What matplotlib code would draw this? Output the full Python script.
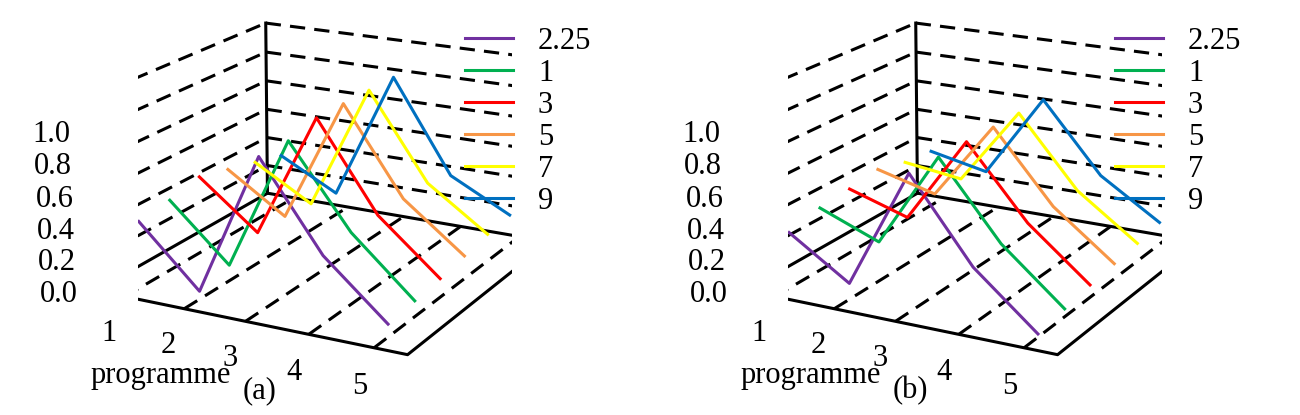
import numpy as np
import matplotlib.pyplot as plt

plt.rcParams['font.family'] = ['Liberation Serif', 'DejaVu Serif']

programme = [1, 2, 3, 4, 5]
labels = ['2.25', '1', '3', '5', '7', '9']
colors = ['#7030a0', '#00b050', '#ff0000', '#f79646', '#ffff00', '#0070c0']

# panel (a)
vals_a = [
    [0.42, 0.05, 0.95, 0.42, 0.08],
    [0.45, 0.10, 0.95, 0.45, 0.10],
    [0.50, 0.20, 1.00, 0.45, 0.12],
    [0.45, 0.20, 1.00, 0.45, 0.15],
    [0.40, 0.18, 1.00, 0.45, 0.18],
    [0.35, 0.15, 1.00, 0.40, 0.20],
]
# panel (b)
vals_b = [
    [0.35, 0.10, 0.85, 0.35, 0.02],
    [0.40, 0.25, 0.85, 0.38, 0.05],
    [0.42, 0.30, 0.85, 0.40, 0.08],
    [0.45, 0.35, 0.85, 0.40, 0.10],
    [0.40, 0.35, 0.85, 0.40, 0.12],
    [0.38, 0.30, 0.85, 0.40, 0.15],
]

fig = plt.figure(figsize=(13, 4.15), dpi=100)


def panel(rect, vals, tag):
    ax = fig.add_axes(rect, projection='3d')
    ax.set_axis_off()
    ax.view_init(elev=18, azim=-62)
    ax.set_box_aspect((1.3, 1.3, 0.75), zoom=1.35)
    n = len(vals)
    x0, x1 = 0.5, 5.5
    y0, y1 = -0.5, n - 0.5
    zt = 1.2
    kw = dict(color='black', lw=2.2)
    dk = dict(color='black', lw=2.2, ls=(0, (5, 3)))
    ax.plot([x0, x1, x1, x0, x0], [y0, y0, y1, y1, y0], [0] * 5, **kw)
    ax.plot([x0, x0], [y0, y0], [0, zt], **kw)
    ax.plot([x0, x0], [y1, y1], [0, zt], **kw)
    for z in np.arange(0.2, zt + 0.01, 0.2):
        ax.plot([x0, x0], [y0, y1], [z, z], **dk)
        ax.plot([x0, x1], [y1, y1], [z, z], **dk)
    for xv in programme:
        ax.plot([xv, xv], [y0, y1], [0, 0], **dk)
    for z in np.arange(0, 1.01, 0.2):
        ax.text(x0 - 0.15, y0 - 0.3, z, f'{z:.1f}', fontsize=22, ha='right', va='center')
    for xv in programme:
        ax.text(xv, y0 - 0.5, -0.08, str(xv), fontsize=22, ha='center', va='top')
    ax.text(2.4, y0 - 1.5, -0.1, 'programme', fontsize=22, ha='center', va='top', rotation=-8)
    for i, v in enumerate(vals):
        ax.plot(programme, [i] * 5, v, color=colors[i], lw=2.2, label=labels[i])
    ax.set_xlim(x0, x1)
    ax.set_ylim(y0, y1)
    ax.set_zlim(0, zt)
    ax.legend(loc='upper left', bbox_to_anchor=(0.8, 0.98), frameon=False,
              fontsize=22, handlelength=1.6, labelspacing=0.1)
    fig.text(rect[0] + rect[2] * 0.4, 0.04, tag, fontsize=22, ha='center')
    return ax


panel([0.0, 0.12, 0.5, 0.9], vals_a, '(a)')
panel([0.5, 0.12, 0.5, 0.9], vals_b, '(b)')

fig.savefig('out.png', dpi=100)
